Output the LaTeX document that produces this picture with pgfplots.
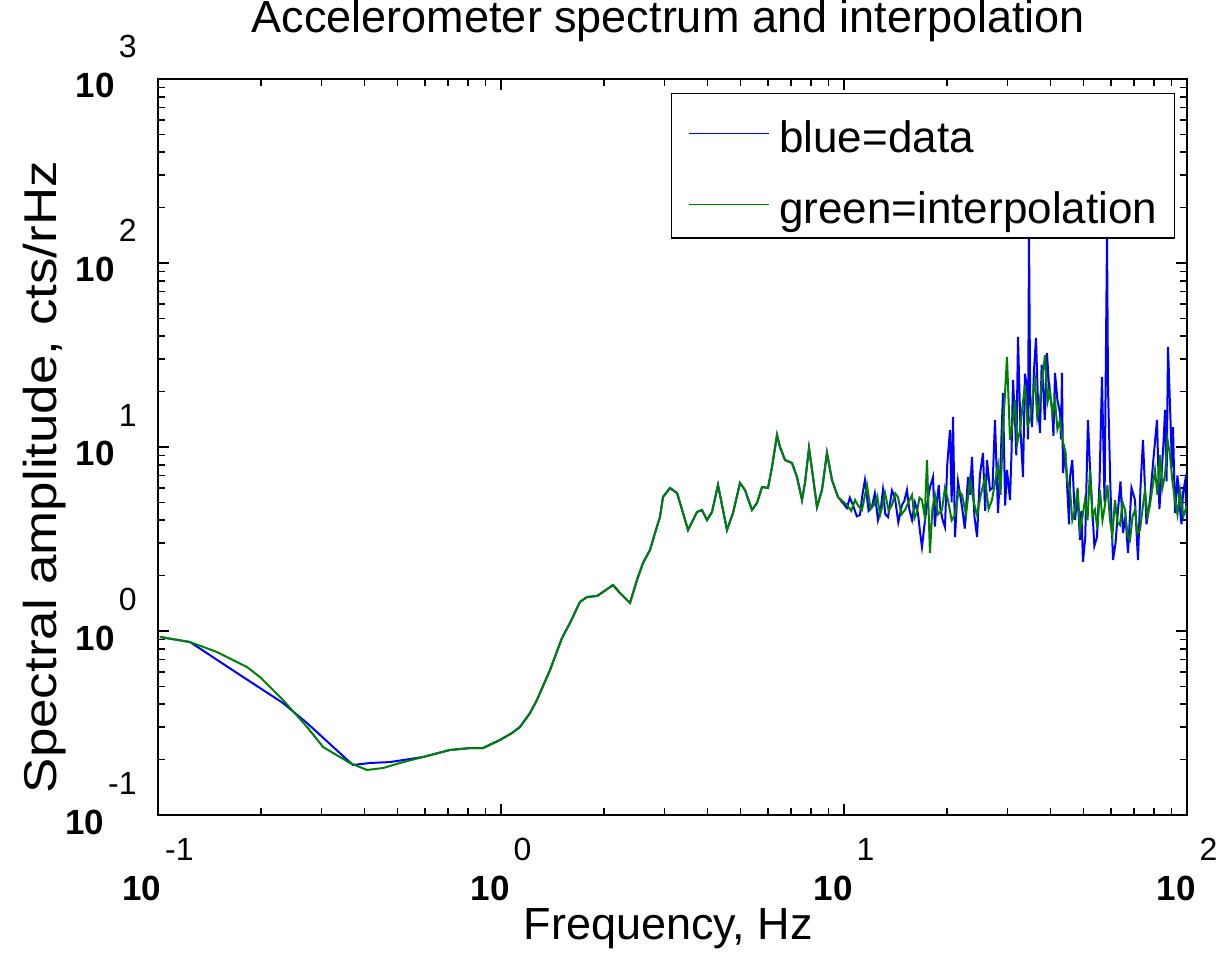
\documentclass[border=0pt]{standalone}
\usepackage{pgfplots}
\pgfplotsset{compat=1.18}
\usepackage{fontspec}
\setmainfont{Liberation Sans}
\definecolor{mblue}{rgb}{0,0,1}
\definecolor{mgreen}{rgb}{0,0.5,0}
\newcommand{\tl}[1]{{\fontsize{17.5}{17.5}\selectfont\bfseries 10}\hspace{2pt}\raisebox{20pt}{\fontsize{16}{16}\selectfont #1}}
\begin{document}
\begin{tikzpicture}
\begin{axis}[
  xmode=log, ymode=log,
  xmin=0.1, xmax=100, ymin=0.1, ymax=1000,
  scale only axis, width=514.5pt, height=368pt,
  axis line style={line width=1pt},
  tick align=inside, tick pos=both,
  major tick length=5.5pt, minor tick length=3.5pt,
  every tick/.style={black, line width=0.75pt},
  xtick={0.1,1,10,100},
  xticklabels={\tl{-1},\tl{0},\tl{1},\tl{2}},
  minor xtick={0.2,0.3,0.4,0.5,0.6,0.7,0.8,0.9,2,3,4,5,6,7,8,9,20,30,40,50,60,70,80,90},
  ytick={0.1,1,10,100,1000},
  yticklabels={\tl{-1},\tl{0},\tl{1},\tl{2},\tl{3}},
  minor ytick={0.2,0.3,0.4,0.5,0.6,0.7,0.8,0.9,2,3,4,5,6,7,8,9,20,30,40,50,60,70,80,90,200,300,400,500,600,700,800,900},
  xticklabel style={anchor=base, inner sep=0pt, yshift=-42.5pt},
  yticklabel style={anchor=base east, inner sep=0pt, xshift=-10.5pt, yshift=-9.5pt},
  title={Accelerometer spectrum and interpolation},
  title style={at={(axis description cs:0.496,1.0462)}, anchor=base, inner sep=0pt, font=\fontsize{22.5}{26}\selectfont},
  xlabel={Frequency, Hz},
  xlabel style={at={(axis description cs:0.496,-0.1698)}, anchor=base, inner sep=0pt, font=\fontsize{22.5}{26}\selectfont},
  ylabel={\scalebox{1.15}[1]{Spectral amplitude, cts/rHz}},
  ylabel style={at={(axis description cs:-0.0982,0.459)}, anchor=base, inner sep=0pt, font=\fontsize{23}{26}\selectfont},
  legend style={at={(axis description cs:0.98834,0.98098)}, anchor=north east, draw=black, line width=0.75pt,
    inner xsep=8.5pt, inner ysep=2.5pt, row sep=3.9pt, font=\fontsize{22}{26}\selectfont,
    nodes={inner sep=0pt, text height=27pt, text depth=4.6pt}},
  legend cell align=left,
  legend image code/.code={\draw[#1, line width=0.75pt] (0pt,-1.5pt) -- (40pt,-1.5pt); \path (44.5pt,-1.5pt);},
]
\addplot[mblue, line width=1pt] coordinates {
(0.1013,0.928) (0.124,0.871) (0.170,0.591) (0.2314,0.406) (0.272,0.316) (0.370,0.187)
(0.415,0.1917) (0.4746,0.194) (0.592,0.2066) (0.710,0.2256) (0.812,0.231) (0.886,0.231)
(0.993,0.2557) (1.077,0.279) (1.136,0.301) (1.215,0.358) (1.273,0.422) (1.390,0.614)
(1.506,0.916) (1.589,1.105) (1.699,1.438) (1.781,1.530) (1.905,1.550) (1.983,1.629)
(2.121,1.778) (2.223,1.609) (2.377,1.420) (2.492,1.893) (2.594,2.342) (2.719,2.755)
(2.812,3.410) (2.908,4.165) (2.967,5.350) (3.110,5.988) (3.260,5.623) (3.394,4.378)
(3.510,3.539) (3.728,4.433) (3.855,4.546) (3.987,4.011) (4.123,4.433) (4.293,6.217)
(4.559,3.539) (4.747,4.378) (4.975,6.374) (5.145,5.839) (5.393,4.546) (5.578,4.963)
(5.768,6.063) (6.005,5.988) (6.168,7.786) (6.379,11.62) (6.508,10.0) (6.730,8.50)
(7.053,8.185) (7.295,6.871) (7.544,5.152) (7.697,6.374) (7.907,9.876) (8.122,6.871)
(8.342,4.720) (8.627,5.839) (8.920,9.278) (9.226,6.619) (9.605,5.350)
(10.20,4.661) (10.4,5.3) (10.62,4.840) (10.9,4.2) (11.13,4.270) (11.3,5.4) (11.51,6.619)
(11.8,4.5) (12.06,4.720) (12.3,5.6) (12.56,4.011) (12.8,4.6) (12.99,5.839) (13.2,4.3)
(13.44,4.165) (13.8,5.8) (14.08,5.283) (14.4,3.9) (14.76,4.840) (15.0,5.1) (15.26,5.839)
(15.5,4.6) (15.79,4.011) (16.1,5.0) (16.43,4.378) (16.65,3.5) (16.88,2.860) (17.2,3.9)
(17.46,4.840) (17.8,6.0) (18.18,6.871) (18.4,3.7) (18.67,5.152) (18.9,6.2) (19.06,4.720)
(19.4,4.0) (19.70,3.674) (20.0,8.0) (20.37,12.37) (20.6,5.0) (20.79,14.56) (21.07,3.243)
(21.5,6.5) (22.09,4.720) (22.5,3.6) (22.99,6.871) (23.3,5.5) (23.61,8.824) (24.0,4.2)
(24.43,3.243) (24.9,7.0) (25.42,9.278) (25.8,4.5) (26.12,8.50) (26.65,5.839) (27.1,6.0)
(27.56,14.02) (28.12,4.378) (28.6,8.0) (29.08,19.66) (29.5,4.8) (29.87,7.499) (30.48,5.152)
(30.8,9.5) (31.10,23.13) (31.52,14.02) (31.8,9.0) (32.16,39.61) (32.7,12.5) (33.26,6.871)
(33.7,25.0) (34.17,21.19) (34.4,11.0) (34.63,145.5) (34.9,18.0) (35.33,12.84) (35.8,26.0)
(36.29,39.12) (36.8,17.0) (37.28,11.92) (37.7,28.0) (38.04,22.27) (38.5,14.0) (39.07,32.43)
(39.7,20.0) (40.41,16.50) (40.8,11.5) (41.23,25.25) (41.9,18.0) (42.64,15.30) (42.9,11.0)
(43.21,25.25) (43.50,7.224) (44.2,9.5) (44.99,4.963) (45.3,3.8) (45.60,6.871) (46.3,8.5)
(47.15,4.011) (48.0,5.5) (48.75,3.123) (49.2,4.5) (49.74,2.371) (50.5,3.2) (51.44,14.02)
(52.1,8.0) (52.84,4.963) (53.7,2.9) (54.65,3.243) (55.6,6.5) (56.52,24.01) (57.5,5.0)
(58.46,142.0) (58.85,21.19) (59.8,6.0) (60.86,2.431) (61.9,3.0) (62.93,4.546) (64.0,6.5)
(65.08,3.410) (66.2,4.2) (67.30,2.654) (68.9,6.0) (70.54,5.152) (71.3,3.4) (71.97,2.431)
(73.2,6.0) (74.43,10.92) (76.2,3.8) (78.01,5.152) (79.8,8.5) (81.76,14.02) (83.1,4.6)
(84.56,7.786) (85.4,10.5) (86.29,15.89) (87.2,6.5) (88.04,34.96) (89.3,16.0) (90.44,7.786)
(91.04,12.84) (92.26,4.378) (93.8,7.0) (95.41,4.546) (96.4,3.8) (97.34,5.623) (98.7,6.5)
(100,4.011)
};
\addlegendentry{blue=data}
\addplot[mgreen, line width=1pt] coordinates {
(0.1013,0.928) (0.124,0.871) (0.1486,0.769) (0.1818,0.637) (0.1983,0.562) (0.2314,0.422)
(0.272,0.301) (0.303,0.234) (0.363,0.1917) (0.4067,0.1757) (0.453,0.180) (0.5076,0.1917)
(0.592,0.2066) (0.710,0.2256) (0.812,0.231) (0.886,0.231)
(0.993,0.2557) (1.077,0.279) (1.136,0.301) (1.215,0.358) (1.273,0.422) (1.390,0.614)
(1.506,0.916) (1.589,1.105) (1.699,1.438) (1.781,1.530) (1.905,1.550) (1.983,1.629)
(2.121,1.778) (2.223,1.609) (2.377,1.420) (2.492,1.893) (2.594,2.342) (2.719,2.755)
(2.812,3.410) (2.908,4.165) (2.967,5.350) (3.110,5.988) (3.260,5.623) (3.394,4.378)
(3.510,3.539) (3.728,4.433) (3.855,4.546) (3.987,4.011) (4.123,4.433) (4.293,6.217)
(4.559,3.539) (4.747,4.378) (4.975,6.374) (5.145,5.839) (5.393,4.546) (5.578,4.963)
(5.768,6.063) (6.005,5.988) (6.168,7.786) (6.379,11.62) (6.508,10.0) (6.730,8.50)
(7.053,8.185) (7.295,6.871) (7.544,5.152) (7.697,6.374) (7.907,9.876) (8.122,6.871)
(8.342,4.720) (8.627,5.839) (8.920,9.278) (9.226,6.619) (9.605,5.350)
(10.20,4.840) (10.5,4.5) (10.77,5.152) (11.0,4.8) (11.28,4.546) (11.67,6.217) (11.95,4.6)
(12.23,4.840) (12.5,5.4) (12.74,4.270) (13.0,4.9) (13.17,5.623) (13.5,4.5) (13.80,4.840)
(14.1,5.6) (14.37,5.350) (14.7,4.3) (15.06,4.546) (15.4,5.0) (15.79,5.483) (16.05,4.1)
(16.32,4.433) (16.6,5.3) (16.88,5.152) (17.2,4.2) (17.46,8.50) (17.81,2.654) (18.1,4.6)
(18.42,5.483) (18.8,4.3) (19.31,4.546) (19.7,6.0) (20.10,5.152) (20.6,4.0) (21.07,4.270)
(21.6,5.8) (22.09,5.483) (22.7,4.3) (23.29,6.619) (23.9,5.0) (24.43,4.270) (25.1,5.6)
(25.77,6.785) (26.4,4.6) (27.01,5.152) (27.6,6.5) (28.12,7.983) (28.6,5.5) (29.08,12.37)
(29.87,30.84) (30.48,10.92) (31.0,13.5) (31.52,18.01) (32.0,10.5) (32.60,12.37) (33.2,17.0)
(33.71,21.73) (34.3,13.0) (34.86,14.02) (35.5,19.0) (36.05,23.13) (36.6,14.5) (37.28,18.01)
(37.9,24.0) (38.55,31.62) (39.2,17.5) (39.86,20.41) (40.5,15.0) (41.23,18.01) (41.9,12.5)
(42.64,14.02) (43.3,11.0) (44.09,9.632) (44.8,6.5) (45.60,5.839) (46.3,4.0) (47.15,4.546)
(48.0,6.0) (48.75,3.539) (49.6,4.2) (50.42,5.152) (51.3,4.0) (52.14,7.499) (53.0,4.2)
(53.92,4.546) (54.8,3.6) (55.77,5.839) (56.7,4.0) (57.68,4.840) (58.6,6.2) (59.64,4.011)
(60.6,3.3) (61.68,5.152) (62.7,3.9) (63.78,3.767) (64.9,5.0) (65.96,4.546) (67.1,3.3)
(68.21,3.123) (69.4,4.2) (70.54,4.546) (71.7,3.4) (72.95,3.539) (74.2,4.6) (75.44,5.839)
(76.7,4.2) (78.01,4.840) (79.3,6.0) (80.67,7.499) (82.0,5.5) (83.43,9.049) (84.8,6.0)
(86.29,7.043) (87.7,11.0) (89.21,9.049) (90.7,6.5) (92.26,5.152) (93.8,4.3) (95.41,5.839)
(97.6,4.2) (100,4.840)
};
\addlegendentry{green=interpolation}
\end{axis}
\pgfresetboundingbox
\path[use as bounding box] (-79pt,-69pt) rectangle (529pt,407.5pt);
\end{tikzpicture}
\end{document}
